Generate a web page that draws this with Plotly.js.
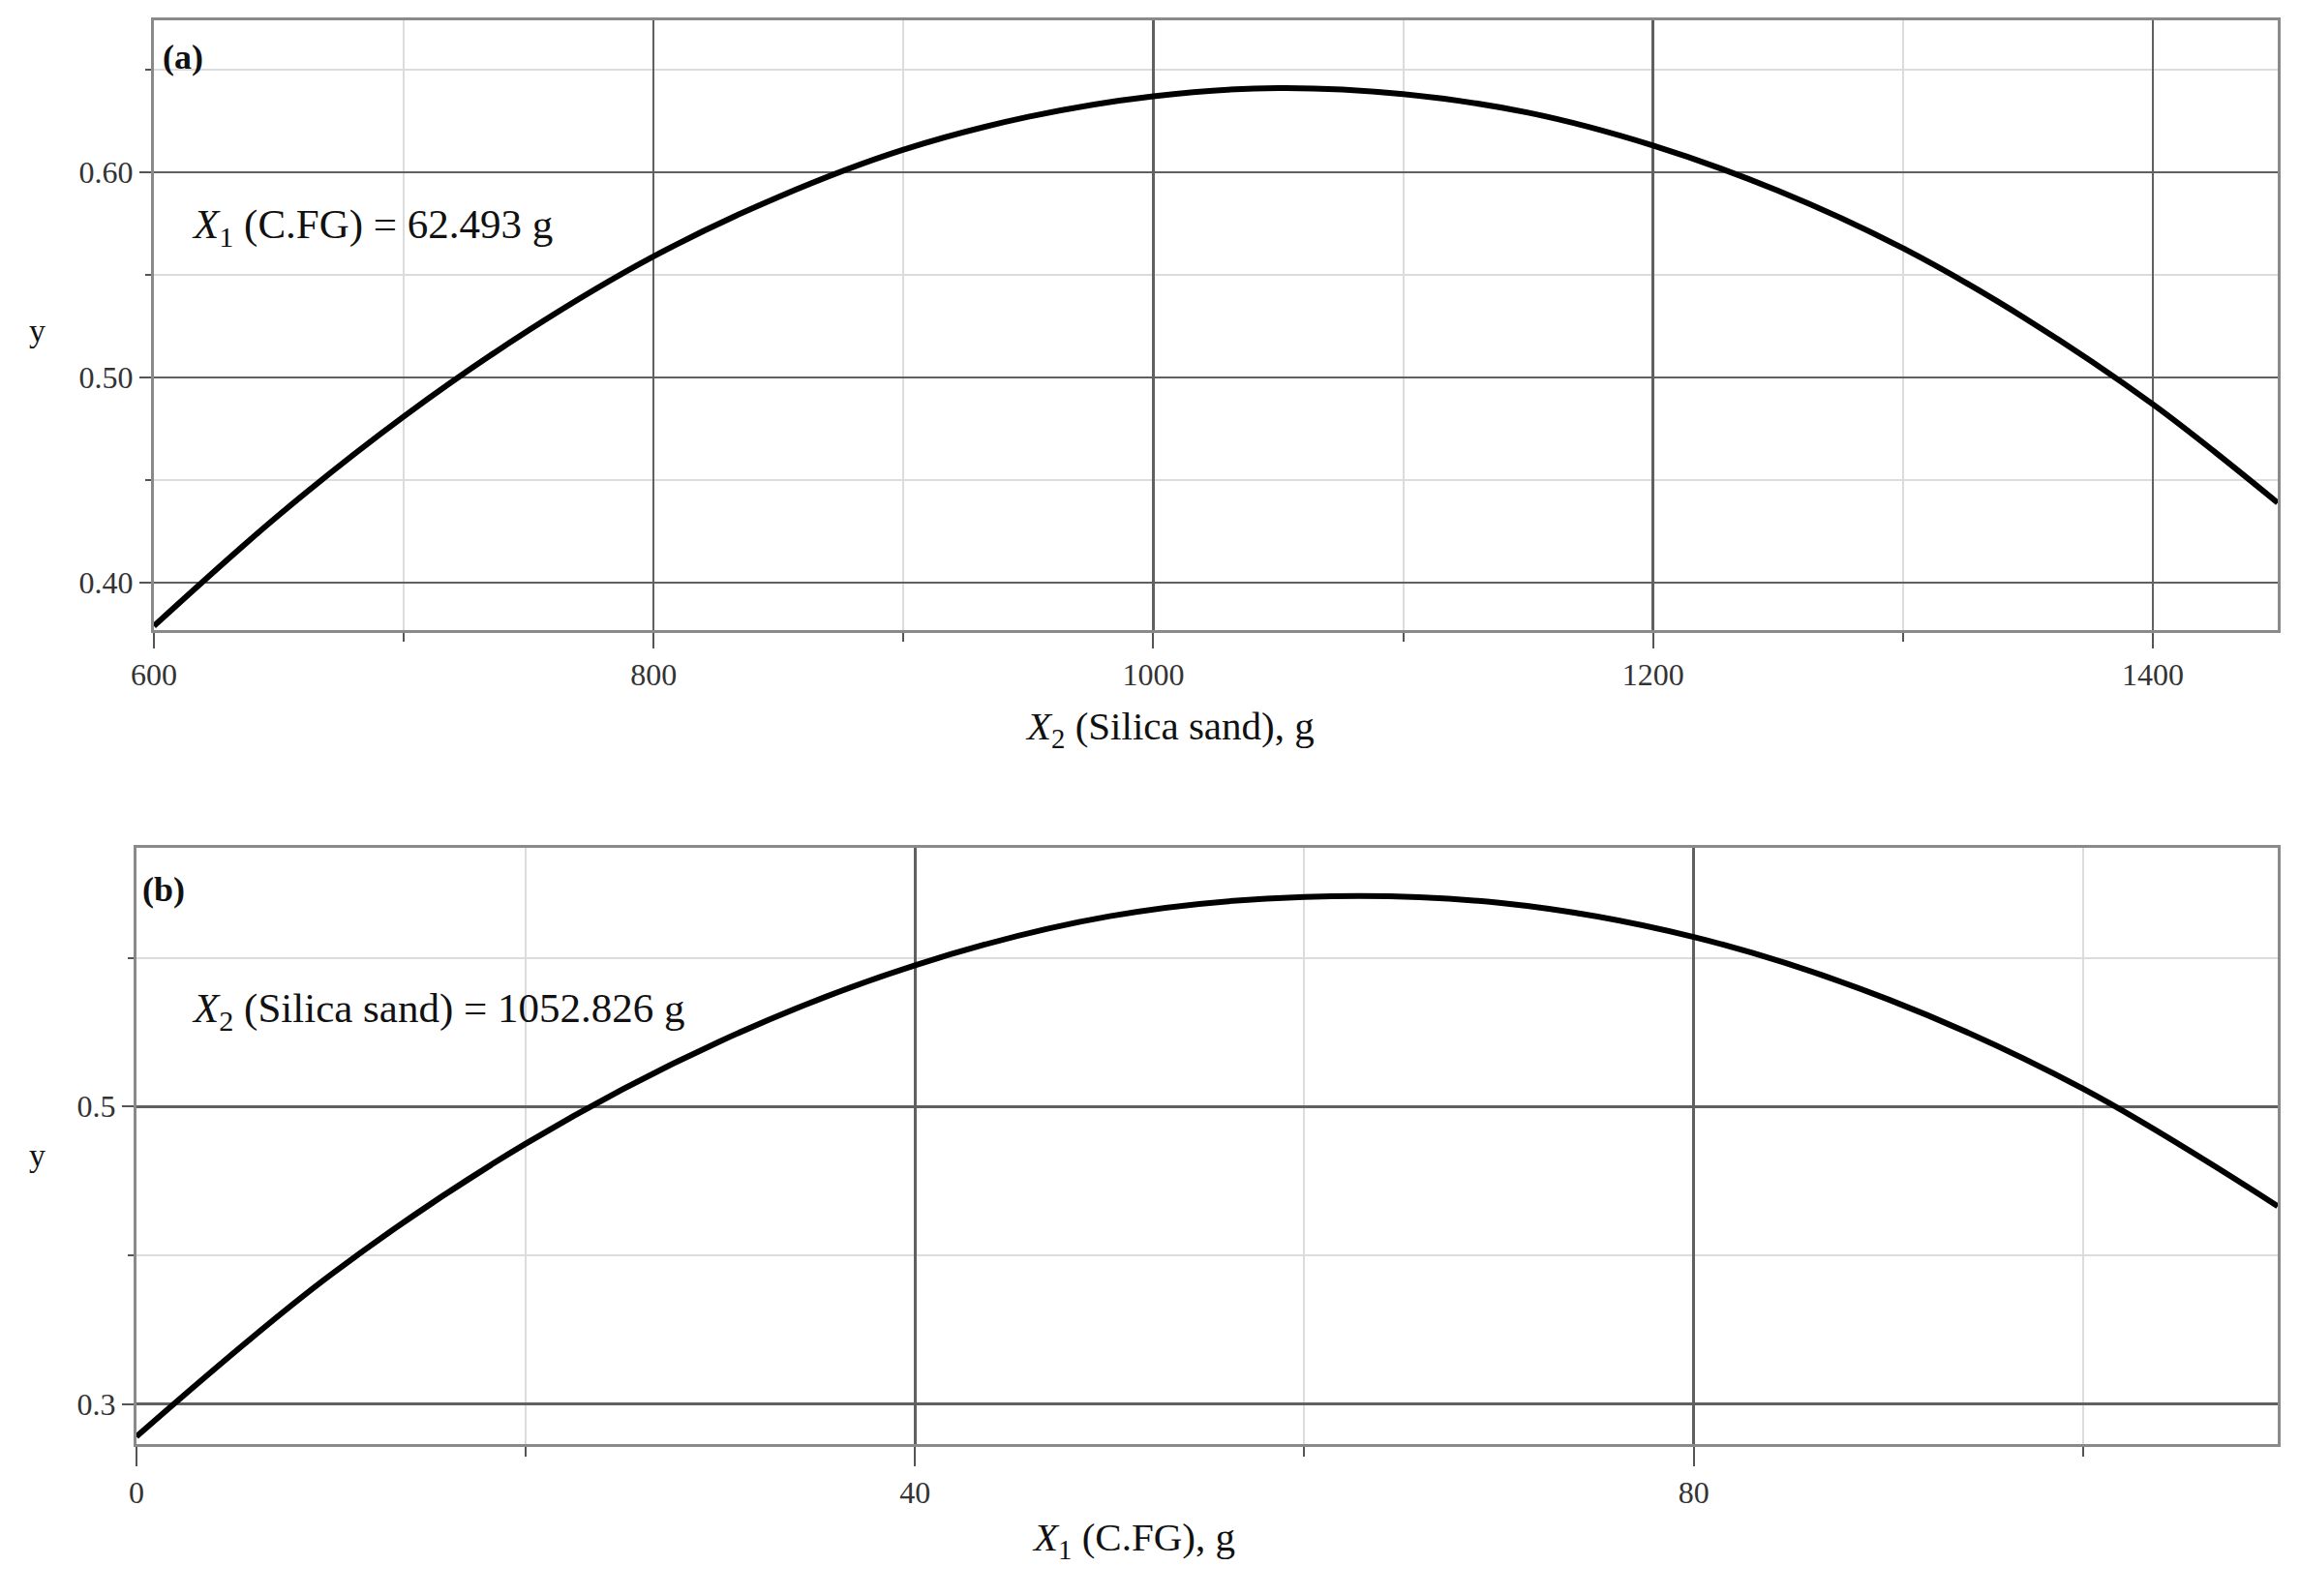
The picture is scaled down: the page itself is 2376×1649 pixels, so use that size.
<!DOCTYPE html>
<html>
<head>
<meta charset="utf-8">
<script src="https://cdn.plot.ly/plotly-3.0.1.min.js"></script>
<style>
  html, body { margin: 0; padding: 0; background: #fff; }
  #plot { width: 2376px; height: 1649px; }
</style>
</head>
<body>
<div id="plot"></div>
<script>
// panel (a): y against X2 (silica sand), X1 held at 62.493 g
var sandX = [600, 650, 700, 750, 800, 850, 900, 950, 1000, 1050, 1100, 1150, 1200, 1250, 1300, 1350, 1400, 1450];
var sandY = [0.379, 0.433, 0.481, 0.523, 0.559, 0.588, 0.611, 0.627, 0.637, 0.641, 0.638, 0.629, 0.613, 0.591, 0.563, 0.528, 0.487, 0.439];

// panel (b): y against X1 (C.FG), X2 held at 1052.826 g
var cfgX = [0, 10, 20, 30, 40, 50, 60, 70, 80, 90, 100, 110];
var cfgY = [0.278, 0.387, 0.475, 0.544, 0.595, 0.628, 0.641, 0.637, 0.614, 0.572, 0.512, 0.433];

var fixedA = "<i>X</i><sub>1</sub> (C.FG) = 62.493 g";
var fixedB = "<i>X</i><sub>2</sub> (Silica sand) = 1052.826 g";
var titleA = "<i>X</i><sub>2</sub> (Silica sand), g";
var titleB = "<i>X</i><sub>1</sub> (C.FG), g";

var serif = "Liberation Serif, Times New Roman, serif";
var majorGrid = "#606060";
var minorGrid = "#dcdcdc";
var frame = "#8a8a8a";

var traceA = {
  x: sandX, y: sandY, type: "scatter", mode: "lines",
  line: {color: "#000", width: 6, shape: "spline"},
  xaxis: "x", yaxis: "y", hoverinfo: "skip"
};
var traceB = {
  x: cfgX, y: cfgY, type: "scatter", mode: "lines",
  line: {color: "#000", width: 6, shape: "spline"},
  xaxis: "x2", yaxis: "y2", hoverinfo: "skip"
};

function axisBase() {
  return {
    showline: true, mirror: true, linecolor: frame, linewidth: 3,
    showgrid: true, gridcolor: majorGrid, gridwidth: 2.5,
    zeroline: false, ticks: "outside", tickcolor: "#555", tickwidth: 2,
    tickfont: {family: serif, size: 32, color: "#333"},
    automargin: false
  };
}

var xa = axisBase();
Object.assign(xa, {
  domain: [0.0669, 0.9903], anchor: "y", range: [600, 1450],
  tickmode: "linear", tick0: 600, dtick: 200, ticklen: 16,
  minor: {dtick: 100, ticklen: 9, tickcolor: "#555", showgrid: true, gridcolor: minorGrid, gridwidth: 2}
});
var ya = axisBase();
Object.assign(ya, {
  domain: [0.6052, 0.9873], anchor: "x", range: [0.377, 0.674],
  tickmode: "linear", tick0: 0.4, dtick: 0.1, tickformat: ".2f", ticklen: 12,
  minor: {dtick: 0.05, ticklen: 6, tickcolor: "#555", showgrid: true, gridcolor: minorGrid, gridwidth: 2}
});
var xb = axisBase();
Object.assign(xb, {
  domain: [0.0593, 0.9903], anchor: "y2", range: [0, 110],
  tickmode: "linear", tick0: 0, dtick: 40, ticklen: 20,
  minor: {dtick: 20, ticklen: 10, tickcolor: "#555", showgrid: true, gridcolor: minorGrid, gridwidth: 2}
});
var yb = axisBase();
Object.assign(yb, {
  domain: [0.0952, 0.4688], anchor: "x2", range: [0.273, 0.674],
  tickmode: "linear", tick0: 0.3, dtick: 0.2, tickformat: ".1f", ticklen: 12,
  minor: {dtick: 0.1, ticklen: 6, tickcolor: "#555", showgrid: true, gridcolor: minorGrid, gridwidth: 2}
});

function note(text, xref, yref, x, y, size, anchor) {
  return {text: text, xref: xref, yref: yref, x: x, y: y,
          xanchor: anchor || "left", yanchor: "middle", showarrow: false,
          font: {family: serif, size: size, color: "#111"}};
}

var layout = {
  width: 2376, height: 1649,
  margin: {l: 0, r: 0, t: 0, b: 0},
  paper_bgcolor: "#fff", plot_bgcolor: "#fff",
  showlegend: false,
  font: {family: serif, color: "#111"},
  xaxis: xa, yaxis: ya, xaxis2: xb, yaxis2: yb,
  annotations: [
    note("<b>(a)</b>", "x domain", "y domain", 0.003, 0.94, 36),
    note("<b>(b)</b>", "x2 domain", "y2 domain", 0.002, 0.93, 36),
    note(fixedA, "x domain", "y domain", 0.017, 0.66, 43),
    note(fixedB, "x2 domain", "y2 domain", 0.025, 0.726, 43),
    // axis titles sit a little left of centre in the original
    note(titleA, "paper", "paper", 1208 / 2376, 1 - 753 / 1649, 41, "center"),
    note(titleB, "paper", "paper", 1171 / 2376, 1 - 1591 / 1649, 41, "center"),
    note("y", "paper", "paper", 0.016, 0.793, 34, "center"),
    note("y", "paper", "paper", 0.016, 0.276, 34, "center")
  ]
};

Plotly.newPlot("plot", [traceA, traceB], layout, {staticPlot: true});
</script>
</body>
</html>
